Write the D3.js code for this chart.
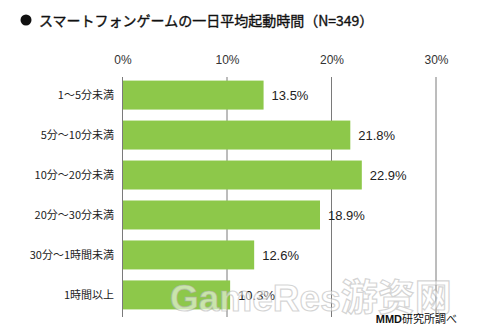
<!DOCTYPE html>
<html>
<head>
<meta charset="utf-8">
<script src="https://cdn.jsdelivr.net/npm/d3@7"></script>
<style>
  html, body { margin: 0; padding: 0; background: #fff; }
  svg { display: block; font-family: "Liberation Sans", Arial, "Noto Sans CJK JP", sans-serif; }
</style>
</head>
<body>
<svg id="chart" width="477" height="335"></svg>
<script>
// Average daily launch time of smartphone games
const titleText = "スマートフォンゲームの一日平均起動時間（N=349）";
const categories = ["1～5分未満", "5分～10分未満", "10分～20分未満", "20分～30分未満", "30分～1時間未満", "1時間以上"];
const values = [13.5, 21.8, 22.9, 18.9, 12.6, 10.3];
const tickValues = [0, 10, 20, 30];
const sourceBold = "MMD";
const sourceRest = "研究所調べ";

const svg = d3.select("#chart");
const barColor = "#8dc84a";
const gridColor = "#7a7a7a";
const textColor = "#222";

const x = d3.scaleLinear().domain([0, 30]).range([122.5, 436]);
const y = d3.scaleBand().domain(categories).range([75, 315]).paddingInner(0.275).paddingOuter(0.14);

// Title with bullet
svg.append("circle").attr("cx", 26).attr("cy", 20).attr("r", 5.5).attr("fill", "#111");
svg.append("text")
  .attr("x", 39).attr("y", 25.5)
  .attr("font-size", 14).attr("font-weight", "normal").attr("fill", "#111")
  .attr("font-family", "'Noto Sans CJK JP', sans-serif")
  .attr("stroke", "#111").attr("stroke-width", 0.35)
  .text(titleText);

// Gridlines
svg.append("g").selectAll("line").data(tickValues).join("line")
  .attr("x1", d => x(d)).attr("x2", d => x(d))
  .attr("y1", 77).attr("y2", 317)
  .attr("stroke", gridColor).attr("stroke-width", 1);

// Top axis labels
const axis = d3.axisTop(x).tickValues(tickValues).tickFormat(d => d + "%").tickSize(0);
const gAxis = svg.append("g").attr("transform", "translate(0,67)").call(axis);
gAxis.select(".domain").remove();
gAxis.selectAll("text").attr("font-size", 12).attr("fill", "#333").attr("font-family", "'Liberation Sans', Arial, sans-serif");

// Bars
svg.append("g").selectAll("rect").data(values).join("rect")
  .attr("x", x(0) + 0.5)
  .attr("y", (d, i) => y(categories[i]))
  .attr("width", d => x(d) - x(0) - 0.5)
  .attr("height", y.bandwidth())
  .attr("fill", barColor);

// Value labels
svg.append("g").selectAll("text").data(values).join("text")
  .attr("x", d => x(d) + 8)
  .attr("y", (d, i) => y(categories[i]) + y.bandwidth() / 2 + 5)
  .attr("font-size", 13).attr("fill", textColor)
  .text(d => d.toFixed(1) + "%");

// Category labels
svg.append("g").selectAll("text").data(categories).join("text")
  .attr("x", 114)
  .attr("y", d => y(d) + y.bandwidth() / 2 + 4)
  .attr("text-anchor", "end")
  .attr("font-size", 11).attr("fill", textColor)
  .attr("font-family", "'Noto Sans CJK JP', sans-serif")
  .text(d => d);

// Watermark
svg.append("text")
  .attr("x", 170).attr("y", 311)
  .attr("font-size", 37).attr("font-weight", "bold")
  .attr("font-family", "'Liberation Sans', 'Noto Sans CJK SC', sans-serif")
  .attr("fill", "#fff").attr("fill-opacity", 0.55)
  .attr("stroke", "#aaa").attr("stroke-opacity", 0.5).attr("stroke-width", 1.2)
  .text("GameRes游资网");

// Source note
const src = svg.append("text")
  .attr("x", 457).attr("y", 323)
  .attr("text-anchor", "end")
  .attr("font-size", 11).attr("fill", "#111")
  .attr("font-family", "'Noto Sans CJK JP', sans-serif");
src.append("tspan").attr("font-weight", "bold").attr("font-family", "'Liberation Sans', Arial, sans-serif").text(sourceBold);
src.append("tspan").text(sourceRest);
</script>
</body>
</html>
